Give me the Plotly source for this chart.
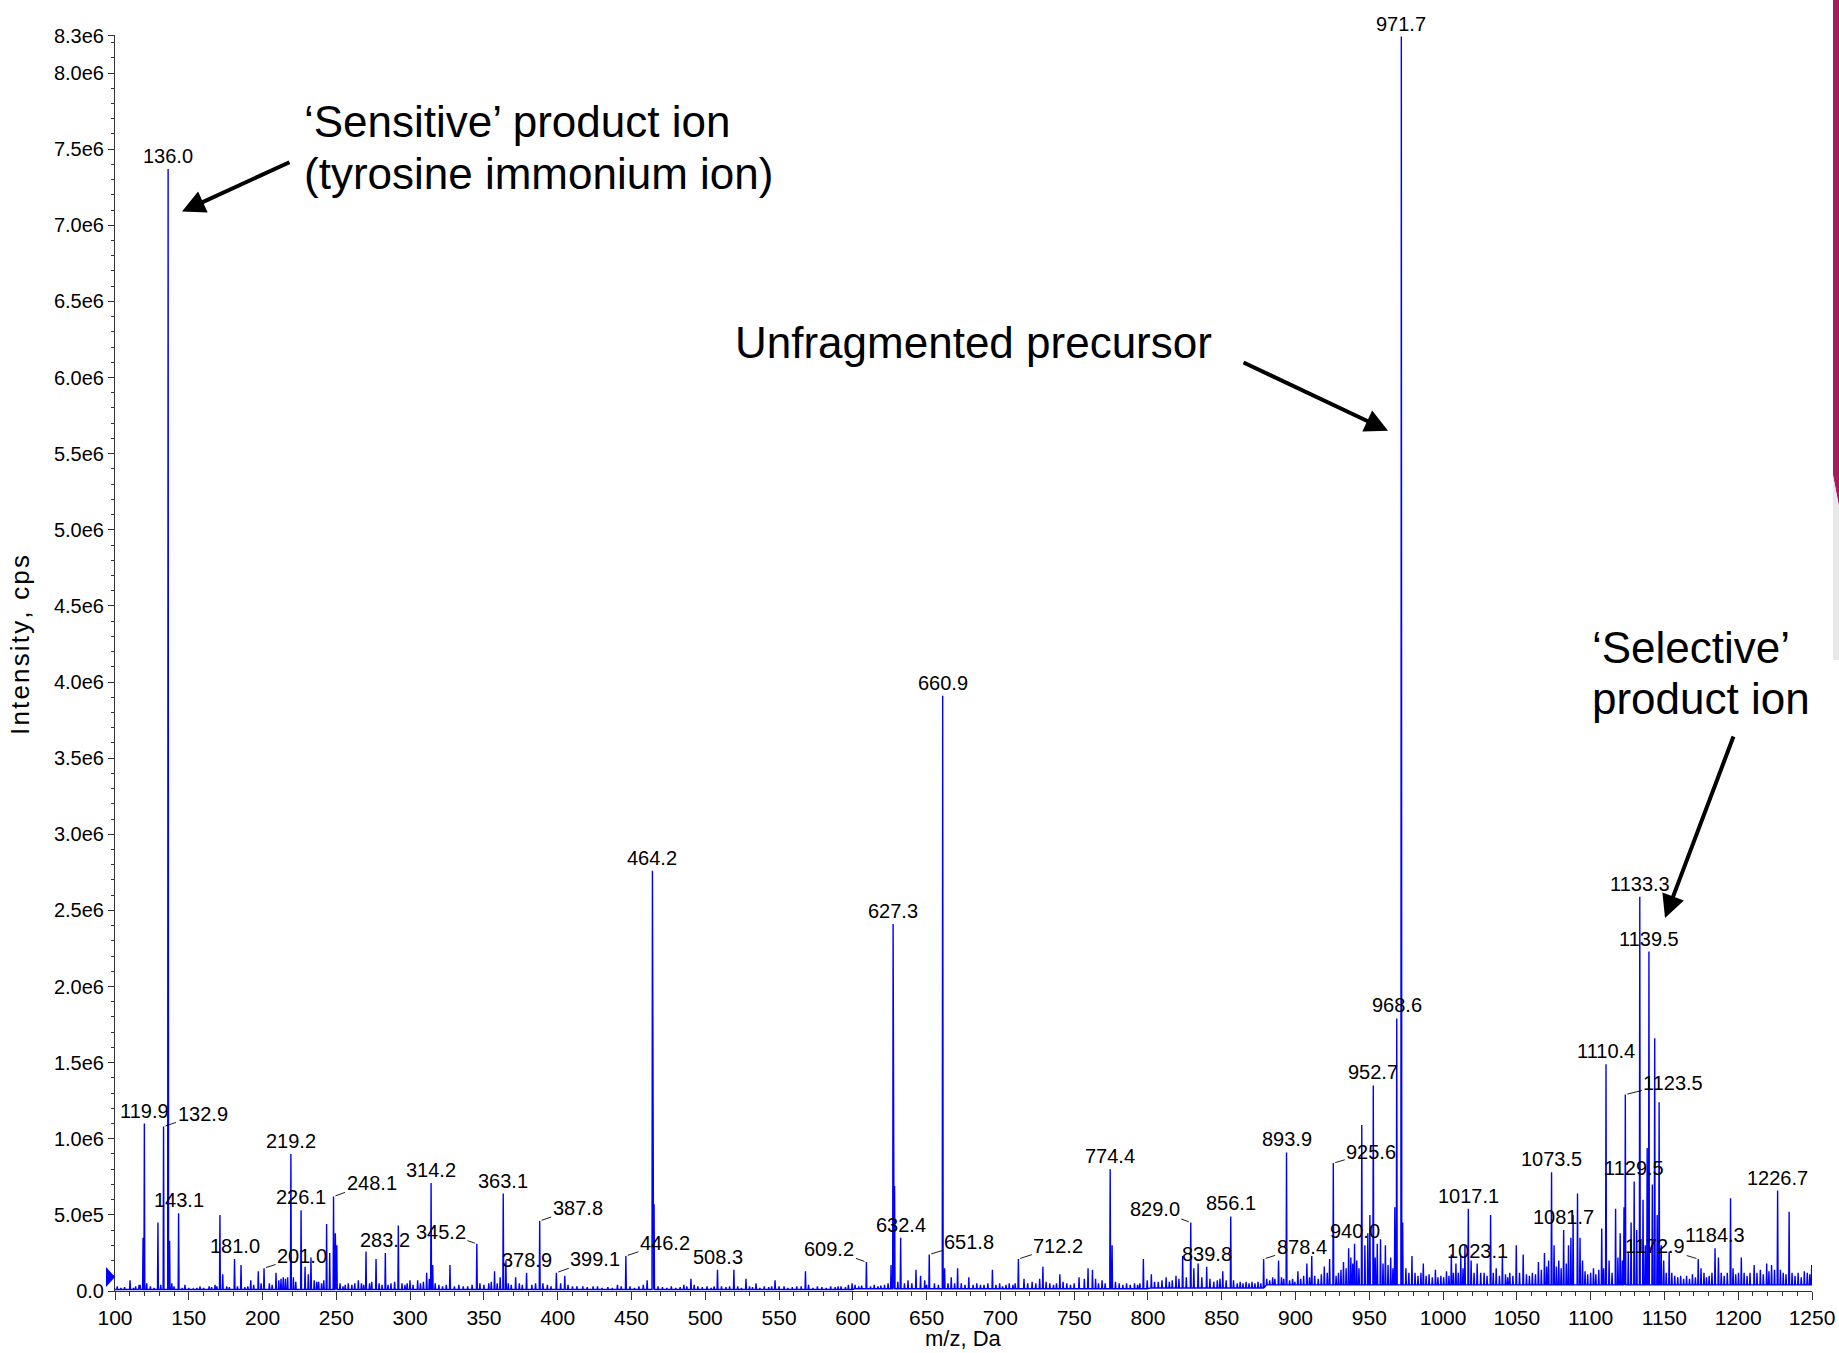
import plotly.graph_objects as go

# ---------------- data (m/z in Da, intensity in millions of cps) ----------------
label_mz = [119.9, 132.9, 136.0, 143.1, 181.0, 201.0, 219.2, 226.1, 248.1, 283.2,
            314.2, 345.2, 363.1, 378.9, 387.8, 399.1, 446.2, 464.2, 508.3, 609.2,
            627.3, 632.4, 651.8, 660.9, 712.2, 774.4, 829.0, 839.8, 856.1, 878.4,
            893.9, 925.6, 940.0, 952.7, 968.6, 971.7, 1017.1, 1023.1, 1073.5, 1081.7,
            1110.4, 1123.5, 1129.5, 1133.3, 1139.5, 1172.9, 1184.3, 1226.7]
label_M = [1.10, 1.08, 7.37, 0.51, 0.21, 0.15, 0.90, 0.53, 0.62, 0.25,
           0.71, 0.31, 0.64, 0.12, 0.46, 0.12, 0.23, 2.76, 0.14, 0.19,
           2.41, 0.35, 0.24, 3.91, 0.21, 0.80, 0.45, 0.16, 0.49, 0.21,
           0.91, 0.84, 0.31, 1.35, 1.79, 8.24, 0.54, 0.18, 0.78, 0.40,
           1.49, 1.29, 0.72, 2.59, 2.23, 0.21, 0.28, 0.66]

other_mz = [119.0, 129.1, 137.0, 171.1, 173.0, 185.4, 197.1, 209.1, 232.8, 243.4,
            245.5, 249.3, 250.3, 270.1, 276.9, 292.0, 299.9, 311.2, 315.3, 327.0,
            357.2, 361.0, 364.9, 371.5, 404.8, 465.3, 519.4, 567.9, 628.3, 671.0,
            694.6, 944.9, 1032.2, 1107.5, 1143.4, 1146.4, 1194.8, 1234.5]
other_M = [0.35, 0.45, 0.33, 0.50, 0.11, 0.17, 0.13, 0.12, 0.22, 0.44,
           0.25, 0.38, 0.30, 0.26, 0.21, 0.43, 0.07, 0.12, 0.17, 0.17,
           0.13, 0.09, 0.20, 0.09, 0.10, 0.57, 0.14, 0.13, 0.69, 0.15,
           0.14, 1.09, 0.50, 0.41, 1.66, 1.24, 0.61, 0.52]

grass_low_mz = [101.5, 104, 106.5, 110.2, 112.5, 114, 116.3, 117, 121.5, 124, 126.5, 131, 138.5, 140,
                145.5, 147.4, 150, 153, 155.5, 157.6, 160, 163.8, 165.5, 167.8, 169, 175.7, 177.5,
                183, 188, 190, 192, 194, 199, 204.6, 206.5, 211, 212.5, 214, 215.5, 217, 220.9,
                222.5, 228.8, 231, 235, 236.7, 238, 240, 241.5, 252.5, 254.5, 256, 258.1, 260.5,
                262.5, 264.9, 267, 268.5, 272.5, 274, 279, 281, 285, 287, 289.5, 294.5, 296.5,
                298, 302, 305.1, 307, 309, 313, 317, 319.5, 322, 324.5, 330, 333, 336, 339, 342,
                347.3, 350, 353.3, 355, 359, 366.5, 368.5, 374, 376, 382.5, 385, 390, 393, 395.5,
                402, 407, 410, 413, 417, 420, 424, 427, 430, 434, 437, 440.5, 443, 449, 452, 455,
                458, 460.6]
grass_low_M = [.03, .02, .025, .07, .02, .03, .04, .04, .05, .03, .02, .04, .05, .03,
               .02, .04, .02, .015, .02, .03, .02, .03, .025, .04, .03, .03, .025,
               .03, .025, .03, .07, .04, .05, .05, .04, .07, .08, .09, .08, .09, .09,
               .06, .16, .11, .07, .06, .06, .05, .07, .05, .03, .04, .05, .04,
               .05, .07, .05, .04, .05, .06, .05, .04, .04, .05, .06, .05, .04,
               .05, .04, .07, .05, .06, .08, .05, .04, .03, .04, .03, .04, .03, .03, .04,
               .05, .04, .05, .06, .05, .05, .04, .05, .04, .04, .05, .05, .04, .03,
               .05, .04, .03, .03, .03, .025, .03, .03, .02, .025, .02, .04, .03, .03, .02, .03,
               .04, .07]

grass_mid_mz = [468, 471, 474, 477, 480, 483, 485.5, 487.5, 490.3, 492.5, 495, 498, 501.2, 504, 506,
                511, 514, 516.5, 522, 524.5, 527.6, 530, 532, 534.4, 537, 540, 543, 545, 547.3, 550,
                553.4, 556, 559, 562, 565, 570, 573, 576, 579, 582, 585, 588, 590, 592, 595, 597,
                599.5, 601.5, 604, 606, 612, 614.5, 617, 619, 621.5, 623.9, 625.9, 630.5, 635,
                637.4, 640, 642.8, 645.9, 648.7, 650, 655.3, 658, 662.2, 664.5, 666.7, 669, 673.5,
                676, 678.6, 681.5, 684, 686.5, 688.9, 691.5, 697, 699.5, 701.5, 703.8, 706, 708.5,
                710, 716, 718.5, 721.5, 724, 726.6, 728.8, 731, 733.5, 736, 738, 740.3, 742.5, 745,
                747.5, 750, 753.3, 756.9, 759.4, 762.4, 764.5, 766.5, 768.9, 771, 775.7, 778, 780.5,
                783, 785.5, 788, 790.9, 793, 794.5, 796.9, 799.5, 802.3, 804.5, 807, 809.5, 812.3,
                814.5, 816.5, 819, 821, 823.5, 826, 831.1, 834, 836.5, 842, 844.6, 847, 848.8,
                850.7, 853, 858, 860.5, 862.5, 864.4, 866.5, 868.5, 870.5, 872.5, 874.6, 876.5]
grass_mid_M = [.03, .025, .02, .03, .02, .025, .04, .03, .08, .04, .03, .025, .03, .02, .03,
               .03, .025, .03, .03, .02, .08, .03, .025, .05, .02, .03, .025, .03, .07, .03,
               .03, .02, .025, .03, .03, .04, .02, .03, .025, .02, .03, .025, .03, .03, .025, .04,
               .05, .04, .03, .035, .03, .04, .03, .035, .04, .05, .17, .06, .05,
               .07, .05, .14, .10, .07, .04, .05, .04, .15, .05, .09, .05, .05,
               .04, .09, .04, .05, .04, .04, .05, .04, .05, .03, .04, .05, .04,
               .05, .08, .05, .06, .05, .08, .16, .06, .05, .04, .05, .11, .06, .05,
               .04, .05, .09, .08, .15, .14, .08, .05, .07, .05, .30, .06, .05,
               .04, .05, .04, .05, .04, .05, .21, .07, .11, .06, .06, .07, .09,
               .06, .07, .10, .08, .23, .09, .15, .18, .09, .08, .06, .07, .08,
               .13, .07, .07, .05, .06, .05, .06, .05, .06, .05, .06, .05]

grass_high_mz = [880.5, 882.5, 884.5, 886, 888.5, 890.5, 892, 896, 898, 899.5, 901.6, 903.5, 905.5,
                 907.7, 909.5, 911, 913, 915.4, 917.5, 919.5, 921.5, 923.1, 927.5, 929.1, 930.8,
                 932.5, 934.3, 936, 937.5, 938.8, 941.5, 943, 947, 949, 950.4, 954, 955.4, 957.6,
                 959.3, 960.9, 962.7, 964.5, 966, 967.3, 972.6, 974.8, 976.8, 978.9, 981, 983, 985,
                 986.6, 988.5, 990.5, 992.7, 994.8, 996.5, 998.5, 1000.4, 1002.3, 1004, 1005.6,
                 1007, 1008.7, 1010.3, 1012, 1013.5, 1014.8, 1019, 1021, 1025.5, 1027.8, 1029.8,
                 1034, 1036, 1038.2, 1040.2, 1042.3, 1043.8, 1045.2, 1047.3, 1049.6, 1051.8,
                 1054.3, 1056.5, 1058.5, 1060.5, 1062.6, 1064.6, 1066.6, 1068.7, 1070.2, 1071.5,
                 1075.2, 1076.8, 1078.4, 1080, 1083.5, 1085, 1086.6, 1088.1, 1091.1, 1092.8,
                 1094.5, 1096.2, 1098, 1100, 1101.9, 1103.5, 1105.5, 1108.8, 1112.5, 1114.5,
                 1116.9, 1118.5, 1120, 1121.5, 1122.6, 1125.5, 1127.4, 1131.2, 1135.5, 1137,
                 1138.3, 1141.8, 1145.1, 1147.8, 1149.5, 1151.2, 1153.2, 1155, 1157, 1159, 1161,
                 1163, 1165, 1167, 1169, 1171, 1174.8, 1176.8, 1178.5, 1180.3, 1182.2, 1186.6,
                 1188.5, 1190.5, 1192.6, 1196.5, 1198.3, 1200.2, 1202.1, 1204, 1206, 1208,
                 1210.8, 1212.7, 1215, 1217, 1219.3, 1220.8, 1222.6, 1224.6, 1228.6, 1230.5,
                 1232.4, 1236.5, 1238.5, 1240.6, 1242.7, 1244.8, 1246.8, 1248.5, 1249.8]
grass_high_M = [.08, .07, .09, .08, .20, .09, .08, .07, .08, .06, .13, .08, .10,
                .18, .09, .23, .10, .08, .11, .16, .12, .21, .10, .12, .14,
                .19, .15, .28, .22, .18, .20, .15, .30, .38, .50, .22, .31, .34,
                .18, .30, .17, .22, .15, .55, .45, .15, .12, .23, .12, .10, .12,
                .18, .10, .11, .09, .14, .09, .10, .09, .13, .10, .24,
                .12, .18, .12, .23, .15, .30, .20, .12, .12, .12, .10,
                .12, .15, .10, .23, .11, .09, .12, .10, .30, .12,
                .24, .11, .10, .12, .11, .19, .14, .25, .16, .20,
                .30, .16, .20, .15, .18, .30, .35, .50, .64, .35,
                .20, .13, .11, .12, .15, .11, .14, .15, .20, .12,
                .54, .22, .38, .20, .55, .25, .45, .40, .60, .30,
                .94, .70, .50, .30, .20, .12, .26, .12, .10, .09, .10,
                .08, .10, .08, .11, .09, .15, .12, .09, .10, .12, .22,
                .12, .10, .12, .15, .11, .12, .22, .12, .10, .12,
                .17, .12, .14, .11, .18, .13, .17, .14, .14, .12,
                .11, .12, .10, .12, .09, .13, .12, .11, .17]

# local baseline level (step, millions of cps) starting at each m/z
baseline_mz = [100, 460, 600, 800, 880]
baseline_M = [0.010, 0.010, 0.015, 0.020, 0.040]

y_tick_vals_M = [0.0, 0.5, 1.0, 1.5, 2.0, 2.5, 3.0, 3.5, 4.0, 4.5, 5.0, 5.5, 6.0, 6.5, 7.0, 7.5, 8.0, 8.245]
y_tick_text = ["0.0", "5.0e5", "1.0e6", "1.5e6", "2.0e6", "2.5e6", "3.0e6", "3.5e6", "4.0e6",
               "4.5e6", "5.0e6", "5.5e6", "6.0e6", "6.5e6", "7.0e6", "7.5e6", "8.0e6", "8.3e6"]

MIL = 1e6

# ---------------- build profile trace ----------------
def base_at(m):
    b = baseline_M[0]
    for bm, bv in zip(baseline_mz, baseline_M):
        if m >= bm:
            b = bv
    return b

peaks = sorted(list(zip(label_mz, label_M)) + list(zip(other_mz, other_M)) +
               list(zip(grass_low_mz, grass_low_M)) + list(zip(grass_mid_mz, grass_mid_M)) +
               list(zip(grass_high_mz, grass_high_M)))
HW = 0.3
xs, ys = [100.0], [base_at(100) * MIL]
for m, v in peaks:
    b = base_at(m) * MIL
    xs += [m - HW, m, m + HW]
    ys += [b, v * MIL, b]
xs.append(1250.0)
ys.append(base_at(1250) * MIL)

fig = go.Figure()
fig.add_trace(go.Scatter(x=xs, y=ys, mode="lines",
                         line=dict(color="#0000FF", width=1.4),
                         hoverinfo="skip", showlegend=False))

FONT = "Arial, Liberation Sans, sans-serif"

# ---------------- layout geometry ----------------
W, H = 1839, 1353
ML, MR, MT, MB = 115, 27, 35, 62
PW, PH = W - ML - MR, H - MT - MB


def px(x):
    return (x - ML) / PW


def py(y):
    return (H - MB - y) / PH


# label offsets (dx, dy in px, leader line)
label_offsets = {
    132.9: (39, -13, True), 201.0: (38, -12, True),
    248.1: (38, -14, True), 345.2: (-36, -12, True), 387.8: (38, -13, True),
    399.1: (39, -14, True), 446.2: (39, -13, True), 609.2: (-37, -13, True),
    651.8: (40, -12, True), 712.2: (40, -13, True), 829.0: (-36, -13, True),
    878.4: (38, -12, True), 925.6: (38, -11, True), 1123.5: (48, -12, True),
    1172.9: (-43, -13, True),
}

annotations = []
for m, v in zip(label_mz, label_M):
    dx, dy, leader = label_offsets.get(m, (0, -13, False))
    txt = f"{m:.1f}"
    if leader:
        annotations.append(dict(x=m, y=v * MIL, xref="x", yref="y", text=txt,
                                showarrow=True, ax=dx, ay=dy, arrowhead=0,
                                arrowwidth=0.9, arrowcolor="black", standoff=2,
                                font=dict(family=FONT, size=20, color="black")))
    else:
        annotations.append(dict(x=m, y=v * MIL, xref="x", yref="y", text=txt,
                                showarrow=False, xshift=dx, yshift=-dy,
                                xanchor="center", yanchor="middle",
                                font=dict(family=FONT, size=20, color="black")))

# big callout texts
big = [("\u2018Sensitive\u2019 product ion", 302, 122),
       ("(tyrosine immonium ion)", 302, 174),
       ("Unfragmented precursor", 733, 343),
       ("\u2018Selective\u2019", 1590, 647),
       ("product ion", 1590, 698)]
for t, x0, yc in big:
    annotations.append(dict(x=px(x0), y=py(yc), xref="paper", yref="paper", text=t,
                            showarrow=False, xanchor="left", yanchor="middle",
                            font=dict(family=FONT, size=44, color="black")))

# callout arrows (tip in data coords, tail offset in px)
arrows = [(145.4, 7.09, 109, -50), (962.7, 5.65, -146, -69), (1150.4, 2.45, 69, -183)]
for xm, yv, ax, ay in arrows:
    annotations.append(dict(x=xm, y=yv * MIL, xref="x", yref="y", text="",
                            showarrow=True, ax=ax, ay=ay, arrowhead=2, arrowsize=1.15,
                            arrowwidth=4, arrowcolor="black", standoff=0))

# axis titles
annotations.append(dict(x=px(20), y=py(645), xref="paper", yref="paper",
                        text="\u200a".join("Intensity, cps"), textangle=-90,
                        showarrow=False, xanchor="center", yanchor="middle",
                        font=dict(family=FONT, size=26, color="black")))
annotations.append(dict(x=0.5, y=py(1338), xref="paper", yref="paper",
                        text="m/z, Da", showarrow=False, xanchor="center", yanchor="middle",
                        font=dict(family=FONT, size=22, color="black")))

shapes = [
    # threshold marker on y axis
    dict(type="path", xref="paper", yref="paper",
         path=f"M {px(106)},{py(1267)} L {px(115)},{py(1277)} L {px(106)},{py(1287)} Z",
         fillcolor="#0000FF", line=dict(width=0)),
    # slide decoration on right edge
    dict(type="path", xref="paper", yref="paper",
         path=f"M {px(1833)},{py(0)} L {px(1840)},{py(0)} L {px(1840)},{py(512)} L {px(1833)},{py(475)} Z",
         fillcolor="#A61B5B", line=dict(width=0)),
    dict(type="path", xref="paper", yref="paper",
         path=f"M {px(1833)},{py(475)} L {px(1840)},{py(512)} L {px(1840)},{py(660)} L {px(1833)},{py(660)} Z",
         fillcolor="#E8E8E8", line=dict(width=0)),
]

fig.update_layout(
    width=W, height=H,
    margin=dict(l=ML, r=MR, t=MT, b=MB, pad=0, autoexpand=False),
    paper_bgcolor="white", plot_bgcolor="white",
    showlegend=False,
    annotations=annotations,
    shapes=shapes,
    font=dict(family=FONT, color="black"),
    xaxis=dict(range=[100, 1250], tickmode="linear", tick0=100, dtick=50, automargin=False,
               showgrid=False, zeroline=False, showline=True, linecolor="#333333",
               linewidth=1, ticks="outside", ticklen=8, tickcolor="#333333", tickwidth=1,
               tickfont=dict(family=FONT, size=21, color="black"),
               minor=dict(tickmode="linear", tick0=100, dtick=10, ticks="outside",
                          ticklen=4, tickcolor="#333333", showgrid=False)),
    yaxis=dict(range=[0, 8.25 * MIL], tickmode="array", automargin=False,
               tickvals=[v * MIL for v in y_tick_vals_M], ticktext=y_tick_text,
               showgrid=False, zeroline=False, showline=True, linecolor="#333333",
               linewidth=1, ticks="outside", ticklen=6, tickcolor="#333333", tickwidth=1,
               tickfont=dict(family=FONT, size=20, color="black"),
               minor=dict(tickmode="linear", tick0=0, dtick=0.1 * MIL, ticks="outside",
                          ticklen=3, tickcolor="#333333", showgrid=False)),
)

fig.write_html("out.html", config={"displayModeBar": False},
               post_script="document.body.style.margin='0px';document.body.style.overflow='hidden';")
